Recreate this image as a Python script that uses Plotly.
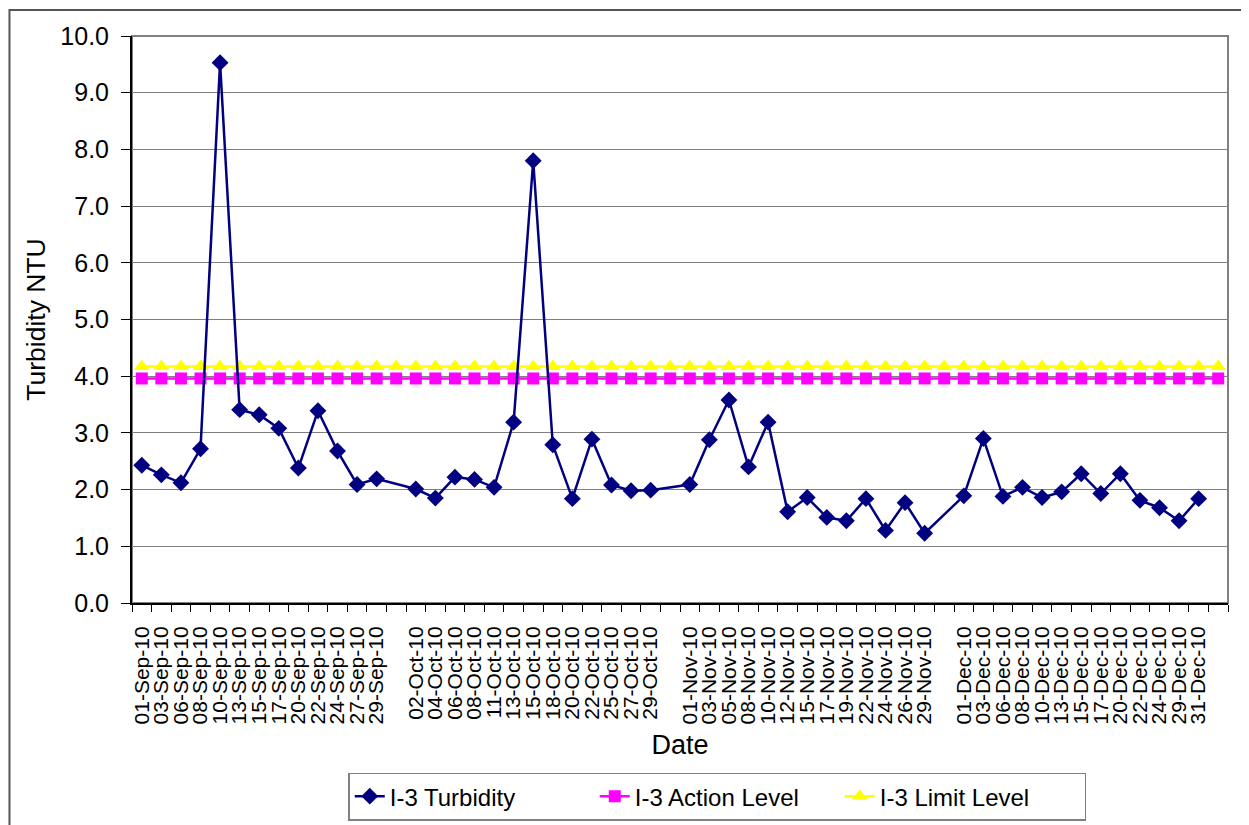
import plotly.graph_objects as go

# ---- data ----
dates = [
    "01-Sep-10", "03-Sep-10", "06-Sep-10", "08-Sep-10", "10-Sep-10", "13-Sep-10", "15-Sep-10",
    "17-Sep-10", "20-Sep-10", "22-Sep-10", "24-Sep-10", "27-Sep-10", "29-Sep-10", " ",
    "02-Oct-10", "04-Oct-10", "06-Oct-10", "08-Oct-10", "11-Oct-10", "13-Oct-10", "15-Oct-10",
    "18-Oct-10", "20-Oct-10", "22-Oct-10", "25-Oct-10", "27-Oct-10", "29-Oct-10", "  ",
    "01-Nov-10", "03-Nov-10", "05-Nov-10", "08-Nov-10", "10-Nov-10", "12-Nov-10", "15-Nov-10",
    "17-Nov-10", "19-Nov-10", "22-Nov-10", "24-Nov-10", "26-Nov-10", "29-Nov-10", "   ",
    "01-Dec-10", "03-Dec-10", "06-Dec-10", "08-Dec-10", "10-Dec-10", "13-Dec-10", "15-Dec-10",
    "17-Dec-10", "20-Dec-10", "22-Dec-10", "24-Dec-10", "29-Dec-10", "31-Dec-10", "    ",
]

turbidity = [
    2.43, 2.26, 2.12, 2.72, 9.53, 3.41, 3.32, 3.08, 2.38, 3.39, 2.68, 2.09, 2.19, None,
    2.01, 1.85, 2.22, 2.18, 2.04, 3.19, 7.80, 2.79, 1.84, 2.89, 2.08, 1.98, 1.99, None,
    2.09, 2.88, 3.58, 2.40, 3.19, 1.61, 1.86, 1.51, 1.45, 1.84, 1.28, 1.77, 1.23, None,
    1.89, 2.90, 1.88, 2.04, 1.86, 1.96, 2.28, 1.93, 2.28, 1.81, 1.68, 1.45, 1.84, None,
]

action_level = [
    3.96, 3.96, 3.96, 3.96, 3.96, 3.96, 3.96, 3.96, 3.96, 3.96, 3.96, 3.96, 3.96, 3.96,
    3.96, 3.96, 3.96, 3.96, 3.96, 3.96, 3.96, 3.96, 3.96, 3.96, 3.96, 3.96, 3.96, 3.96,
    3.96, 3.96, 3.96, 3.96, 3.96, 3.96, 3.96, 3.96, 3.96, 3.96, 3.96, 3.96, 3.96, 3.96,
    3.96, 3.96, 3.96, 3.96, 3.96, 3.96, 3.96, 3.96, 3.96, 3.96, 3.96, 3.96, 3.96, 3.96,
]

limit_level = [
    4.17, 4.17, 4.17, 4.17, 4.17, 4.17, 4.17, 4.17, 4.17, 4.17, 4.17, 4.17, 4.17, 4.17,
    4.17, 4.17, 4.17, 4.17, 4.17, 4.17, 4.17, 4.17, 4.17, 4.17, 4.17, 4.17, 4.17, 4.17,
    4.17, 4.17, 4.17, 4.17, 4.17, 4.17, 4.17, 4.17, 4.17, 4.17, 4.17, 4.17, 4.17, 4.17,
    4.17, 4.17, 4.17, 4.17, 4.17, 4.17, 4.17, 4.17, 4.17, 4.17, 4.17, 4.17, 4.17, 4.17,
]

y_ticks = [0, 1, 2, 3, 4, 5, 6, 7, 8, 9, 10]

FONT = "Arial, Liberation Sans, sans-serif"

fig = go.Figure()

fig.add_trace(go.Scatter(
    x=dates, y=action_level, name="I-3 Action Level", mode="lines+markers",
    line=dict(color="#FF00FF", width=2.5),
    marker=dict(symbol="square", size=12, color="#FF00FF"),
    legendrank=2,
))
fig.add_trace(go.Scatter(
    x=dates, y=limit_level, name="I-3 Limit Level", mode="lines+markers",
    line=dict(color="#FFFF00", width=2.5),
    marker=dict(symbol="triangle-up", size=14, color="#FFFF00"),
    legendrank=3,
))
fig.add_trace(go.Scatter(
    x=dates, y=turbidity, name="I-3 Turbidity", mode="lines+markers",
    connectgaps=True,
    line=dict(color="#000080", width=2.5),
    marker=dict(symbol="diamond", size=13, color="#000080"),
    legendrank=1,
))

# plot area frame (gray top/right) and outer chart frame
fig.add_shape(type="rect", xref="paper", yref="paper", x0=0, x1=1, y0=0, y1=1,
              line=dict(color="#808080", width=2), layer="below")
fig.add_shape(type="rect", xref="paper", yref="paper", x0=-0.1118, x1=1.1, y0=-0.5, y1=1.046,
              line=dict(color="#555555", width=2), layer="below")

fig.update_layout(
    width=1241, height=817,
    margin=dict(l=124, r=21, t=28, b=222, autoexpand=False),
    paper_bgcolor="white", plot_bgcolor="white",
    font=dict(family=FONT, color="black"),
    showlegend=True,
    legend=dict(
        orientation="h", x=0.534, xanchor="center", y=-0.299, yanchor="top",
        bordercolor="#808080", borderwidth=1.5,
        font=dict(size=24, family=FONT), entrywidth=200, entrywidthmode="pixels",
        traceorder="normal",
    ),
    xaxis=dict(
        type="category", categoryorder="array", categoryarray=dates,
        range=[-0.5, len(dates) - 0.5],
        tickmode="linear", tick0=0, dtick=1,
        tickangle=-90, tickfont=dict(size=21, family=FONT),
        tickson="boundaries", ticks="outside", ticklen=7, tickcolor="black",
        ticklabelstandoff=13,
        showline=True, linecolor="black", linewidth=2,
        showgrid=False, zeroline=False,
        title=dict(text="Date", font=dict(size=27, family=FONT), standoff=12),
    ),
    yaxis=dict(
        range=[0, 10], tickvals=y_ticks, tickformat=".1f",
        tickfont=dict(size=25, family=FONT),
        ticks="outside", ticklen=9, tickcolor="black",
        ticklabelstandoff=7,
        showline=True, linecolor="black", linewidth=2,
        showgrid=True, gridcolor="#808080", gridwidth=1,
        zeroline=False,
        title=dict(text="Turbidity NTU", font=dict(size=26.5, family=FONT), standoff=7),
    ),
)

fig.write_html("out.html")
